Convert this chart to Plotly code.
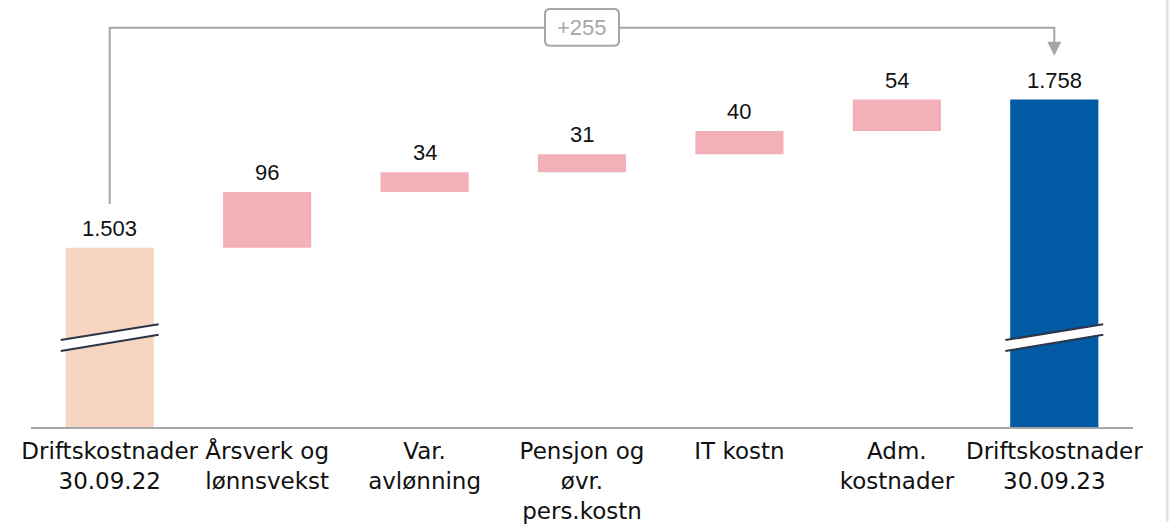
import plotly.graph_objects as go

categories = ["Driftskostnader<br>30.09.22", "Årsverk og<br>lønnsvekst", "Var.<br>avlønning",
              "Pensjon og<br>øvr.<br>pers.kostn", "IT kostn", "Adm.<br>kostnader",
              "Driftskostnader<br>30.09.23"]
start_value = 1503
deltas = [96, 34, 31, 40, 54]
end_value = 1758
change_label = "+255"

# build bar bases / heights
bases = [0]
heights = [start_value]
running = start_value
for d in deltas:
    bases.append(running)
    heights.append(d)
    running += d
bases.append(0)
heights.append(end_value)
tops = [b + h for b, h in zip(bases, heights)]
labels = [f"{v:,}".replace(",", ".") for v in heights]

colors = ["#f7d5c1"] + ["#f2b0b9"] * len(deltas) + ["#005aa4"]

W, H = 1170, 524
ml, mr, mt, mb = 31, 37, 0, 95
plot_h = H - mt - mb
px_per_unit = 149 / 255.0
y0 = start_value - (429 - 249) / px_per_unit
y1 = y0 + plot_h / px_per_unit

fig = go.Figure()
fig.add_trace(go.Bar(x=categories, y=heights, base=bases, marker_color=colors,
                     marker_line_width=0, width=0.56, hoverinfo="skip"))

num_font = dict(family="Liberation Sans, Arial", size=22, color="#111111")
for c, t, lab in zip(categories, tops, labels):
    fig.add_annotation(x=c, y=t, text=lab, showarrow=False, yanchor="bottom",
                       yshift=5, font=num_font)

def py(p):
    return (H - mb - p) / plot_h

shapes = []
# axis break marks on first and last bar
for xi in [0, len(categories) - 1]:
    xl, xr = xi - 0.311, xi + 0.311
    ul, ur, ll, lr = py(341.7), py(325.7), py(352.7), py(336.3)
    shapes.append(dict(type="path", xref="x", yref="paper",
                       path=f"M{xl},{ul} L{xr},{ur} L{xr},{lr} L{xl},{ll} Z",
                       fillcolor="white", line=dict(width=0), layer="above"))
    shapes.append(dict(type="line", xref="x", yref="paper", x0=xl, y0=ul, x1=xr, y1=ur,
                       line=dict(color="#2b3548", width=2), layer="above"))
    shapes.append(dict(type="line", xref="x", yref="paper", x0=xl, y0=ll, x1=xr, y1=lr,
                       line=dict(color="#2b3548", width=2), layer="above"))

gray = "#a6a6a6"
yb = py(28)
last = len(categories) - 1
shapes.append(dict(type="path", xref="x", yref="paper",
                   path=f"M0,{py(205)} L0,{yb} L{last},{yb} L{last},{py(44)}",
                   line=dict(color=gray, width=2)))
cat_w = (W - ml - mr) / len(categories)
aw = 7 / cat_w
shapes.append(dict(type="path", xref="x", yref="paper",
                   path=f"M{last-aw},{py(42)} L{last+aw},{py(42)} L{last},{py(56)} Z",
                   fillcolor=gray, line=dict(width=0)))
# label box (rounded)
mid = last / 2
bw = 37 / cat_w
bx0, bx1 = mid - bw, mid + bw
by0, by1 = py(46), py(9)
rx = 5 / cat_w
ry = 5 / plot_h
shapes.append(dict(type="path", xref="x", yref="paper",
                   path=(f"M{bx0+rx},{by1} L{bx1-rx},{by1} Q{bx1},{by1} {bx1},{by1-ry} "
                         f"L{bx1},{by0+ry} Q{bx1},{by0} {bx1-rx},{by0} L{bx0+rx},{by0} "
                         f"Q{bx0},{by0} {bx0},{by0+ry} L{bx0},{by1-ry} Q{bx0},{by1} {bx0+rx},{by1} Z"),
                   fillcolor="white", line=dict(color=gray, width=2)))
# right edge border
pw = W - ml - mr
shapes.append(dict(type="rect", xref="paper", yref="paper",
                   x0=(1167 - ml) / pw, x1=(1172 - ml) / pw, y0=-mb / plot_h, y1=1,
                   fillcolor="#f3f3f3", line=dict(width=0)))
shapes.append(dict(type="line", xref="paper", yref="paper",
                   x0=(1167 - ml) / pw, x1=(1167 - ml) / pw, y0=-mb / plot_h, y1=1,
                   line=dict(color="#d9d9d9", width=1.5)))

fig.add_annotation(x=mid, y=py(27.5), xref="x", yref="paper", text=change_label,
                   showarrow=False, xanchor="center", yanchor="middle",
                   font=dict(family="Liberation Sans, Arial", size=22, color=gray))

fig.update_layout(
    width=W, height=H, margin=dict(l=ml, r=mr, t=mt, b=mb),
    paper_bgcolor="white", plot_bgcolor="white", showlegend=False,
    shapes=shapes, bargap=0.44,
    xaxis=dict(showgrid=False, showline=True, linecolor=gray, linewidth=1.5,
               ticks="", tickfont=dict(family="DejaVu Sans", size=23, color="#111111"),
               ticklabelstandoff=3, tickangle=0, fixedrange=True),
    yaxis=dict(range=[y0, y1], visible=False, showgrid=False, fixedrange=True),
)

fig.write_html("out.html", config={"displayModeBar": False},
               post_script="document.body.style.margin='0';")
